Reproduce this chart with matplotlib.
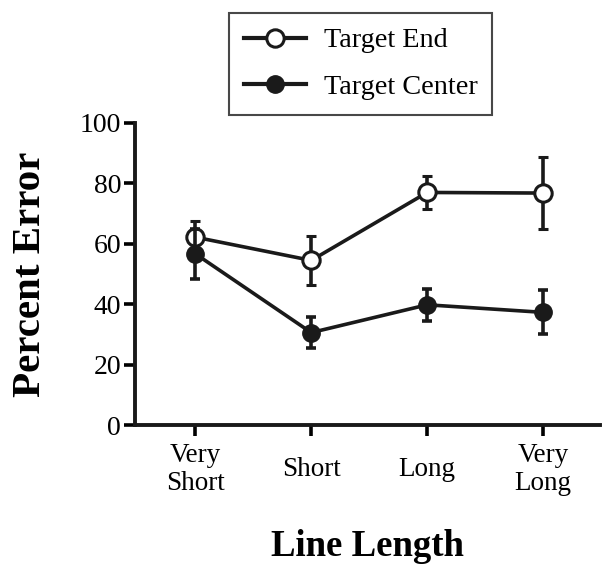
import numpy as np
import matplotlib.pyplot as plt
from matplotlib.lines import Line2D

categories = ['Very\nShort', 'Short', 'Long', 'Very\nLong']
end_mean = [62.2, 54.5, 77.0, 76.8]
end_err = [5.5, 8.0, 5.5, 12.0]
center_mean = [56.7, 30.6, 39.8, 37.3]
center_err = [8.3, 5.2, 5.2, 7.3]

plt.rcParams['font.family'] = ['Liberation Serif', 'DejaVu Serif']

fig = plt.figure(figsize=(6.03, 5.66), dpi=100)
ax = fig.add_axes([0.2239, 0.2491, 0.771, 0.5336])

x = np.arange(len(categories))
lw = 2.6
ink = '#1a1a1a'
ax.errorbar(x, end_mean, yerr=end_err, color=ink, lw=lw, elinewidth=lw,
            capsize=3.8, capthick=lw, marker='o', ms=12.5, mfc='white',
            mec=ink, mew=2.2, zorder=3)
ax.errorbar(x, center_mean, yerr=center_err, color=ink, lw=lw, elinewidth=lw,
            capsize=3.8, capthick=lw, marker='o', ms=12.5, mfc=ink,
            mec=ink, zorder=4)

ax.set_xlim(-0.52, 3.49)
ax.set_ylim(0, 100)
ax.set_yticks([0, 20, 40, 60, 80, 100])
ax.set_xticks(x)
ax.set_xticklabels(categories, fontsize=19.5, va='center', linespacing=1.15)
ax.tick_params(axis='x', length=8, width=2.6, pad=24, direction='out')
ax.tick_params(axis='y', length=8, width=2.6, labelsize=20, pad=2, direction='out')

for s in ['top', 'right']:
    ax.spines[s].set_visible(False)
for s in ['left', 'bottom']:
    ax.spines[s].set_linewidth(2.8)
    ax.spines[s].set_color(ink)

ax.set_ylabel('Percent Error', fontsize=29.5, fontweight='bold', labelpad=22)
ax.set_xlabel('Line Length', fontsize=26.5, fontweight='bold', labelpad=24)

handles = [
    Line2D([], [], color=ink, lw=3, marker='o', ms=12.5, mfc='white', mec=ink, mew=2.2),
    Line2D([], [], color=ink, lw=3, marker='o', ms=12.5, mfc=ink, mec=ink),
]
leg = fig.legend(handles, ['Target End', 'Target Center'], loc='upper left',
                 bbox_to_anchor=(229 / 603, 1 - 13 / 566), fontsize=20.3,
                 frameon=True, fancybox=False, edgecolor=ink,
                 handlelength=2.2, handletextpad=0.65, borderpad=0.52,
                 borderaxespad=0, labelspacing=0.75)
leg.get_frame().set_linewidth(1.5)

fig.savefig('out.png', dpi=100)
